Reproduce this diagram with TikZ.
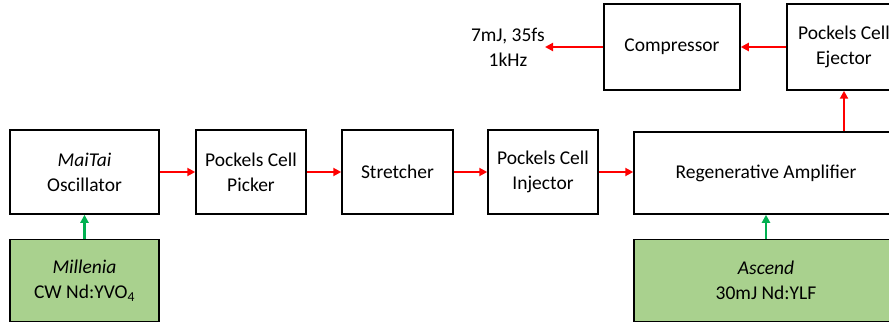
\documentclass[tikz,border=0pt]{standalone}
\usepackage{fontspec}
\setmainfont{Carlito}
\usetikzlibrary{arrows.meta}
\definecolor{boxgreen}{HTML}{A9D18E}
\definecolor{arrgreen}{HTML}{00B050}
\begin{document}
\begin{tikzpicture}[x=1pt,y=-1pt,
  blk/.style={draw=black,line width=1.5pt,fill=white,align=center,inner sep=0pt,
    font=\fontsize{19.5}{25}\selectfont},
  gblk/.style={blk,fill=boxgreen},
  redarr/.style={draw=red,line width=2.2pt,-{Triangle[length=8pt,width=8pt]}},
  grnarr/.style={draw=arrgreen,line width=2.5pt,-{Triangle[length=8pt,width=8pt]}}]
\useasboundingbox (0,0) rectangle (889,326);
\clip (0,0) rectangle (889,326);
\node[blk,minimum width=149pt,minimum height=84pt] (maitai) at (84.5,172) {\textit{MaiTai}\\Oscillator};
\node[gblk,minimum width=149pt,minimum height=82pt] (millenia) at (84.5,280.5) {\textit{Millenia}\\CW Nd:YVO\textsubscript{4}};
\node[blk,minimum width=110pt,minimum height=84pt] (picker) at (251,172) {Pockels Cell\\Picker};
\node[blk,minimum width=111pt,minimum height=84pt] (stretcher) at (397.5,172) {Stretcher};
\node[blk,minimum width=110pt,minimum height=84pt] (injector) at (543,172) {Pockels Cell\\Injector};
\node[blk,minimum width=136pt,minimum height=86pt] (compressor) at (672,47) {Compressor};
\node[blk,minimum width=114pt,minimum height=86pt] (ejector) at (844,47) {Pockels Cell\\Ejector};
\node[blk,minimum width=264pt,minimum height=82pt] (regen) at (766,173) {Regenerative Amplifier};
\node[gblk,minimum width=264pt,minimum height=82pt] (ascend) at (766,280.5) {\textit{Ascend}\\30mJ Nd:YLF};
\node[align=center,inner sep=0pt,anchor=east,font=\fontsize{19.5}{25}\selectfont] (out) at (545,47) {7mJ, 35fs\\1kHz};
\draw[redarr] (maitai.east) -- (picker.west);
\draw[redarr] (picker.east) -- (stretcher.west);
\draw[redarr] (stretcher.east) -- (injector.west);
\draw[redarr] (injector.east) -- (injector.east -| regen.west);
\draw[redarr] (regen.north -| ejector.south) -- (ejector.south);
\draw[redarr] (ejector.west) -- (compressor.east);
\draw[redarr] (compressor.west) -- (out.east);
\draw[grnarr] (millenia.north) -- (maitai.south);
\draw[grnarr] (ascend.north) -- (regen.south);
\end{tikzpicture}
\end{document}
